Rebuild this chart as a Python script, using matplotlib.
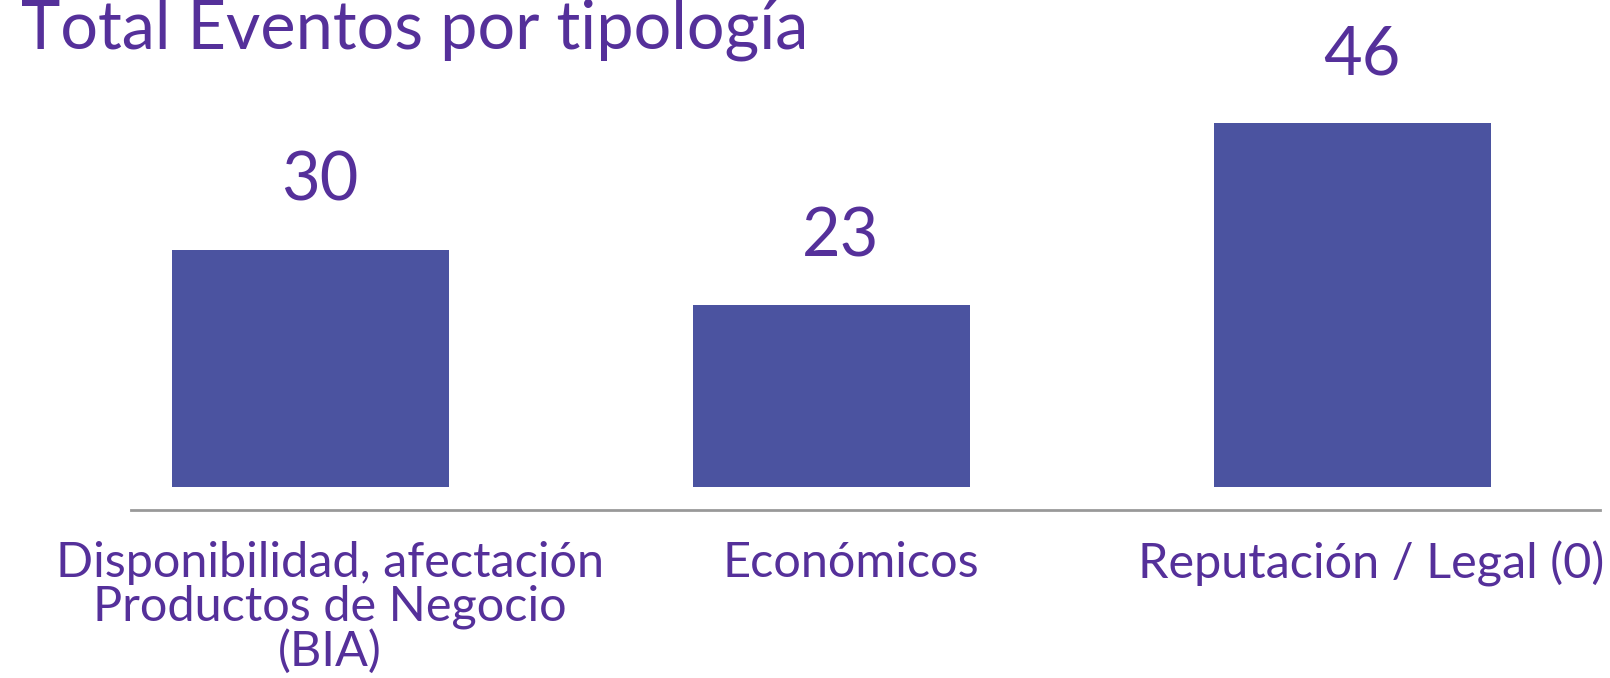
import matplotlib
matplotlib.use("Agg")
import matplotlib.pyplot as plt
import matplotlib.transforms as mtransforms

categories = ["Disponibilidad, afectación\nProductos de Negocio\n(BIA)", "Económicos", "Reputación / Legal (0)"]
totals = [30, 23, 46]

barColor = "#4B53A0"
textColor = "#55309A"
fontName = ["Lato", "DejaVu Sans"]

fig = plt.figure(figsize=(16.10, 6.78), dpi=100)
ax = fig.add_axes([0.0814, 0.2478, 0.9124, 0.752])

x = list(range(len(categories)))
bars = ax.bar(x, totals, width=0.532, color=barColor)

for b, v in zip(bars, totals):
    ax.annotate(str(v), (b.get_x() + b.get_width() / 2, b.get_height()),
                xytext=(7, 35), textcoords="offset points",
                ha="center", va="baseline", fontsize=48, color=textColor,
                family=fontName)

ax.set_xlim(-0.344, 2.476)
ax.set_ylim(-2.9, 61.5)
ax.set_xticks(x)
ax.set_xticklabels(categories, fontsize=35, color=textColor, family=fontName,
                   linespacing=1.0)
ax.tick_params(axis="x", length=0, pad=22)
shift = mtransforms.ScaledTranslation(14 / 72, 0, fig.dpi_scale_trans)
for lbl in ax.get_xticklabels():
    lbl.set_transform(lbl.get_transform() + shift)
ax.set_yticks([])
for s in ["top", "left", "right"]:
    ax.spines[s].set_visible(False)
ax.spines["bottom"].set_color("#999999")
ax.spines["bottom"].set_linewidth(2)

fig.text(0.013, 0.929, "Total Eventos por tipología", ha="left", va="baseline",
         fontsize=48, color=textColor, family=fontName)

fig.savefig("out.png", dpi=100)
